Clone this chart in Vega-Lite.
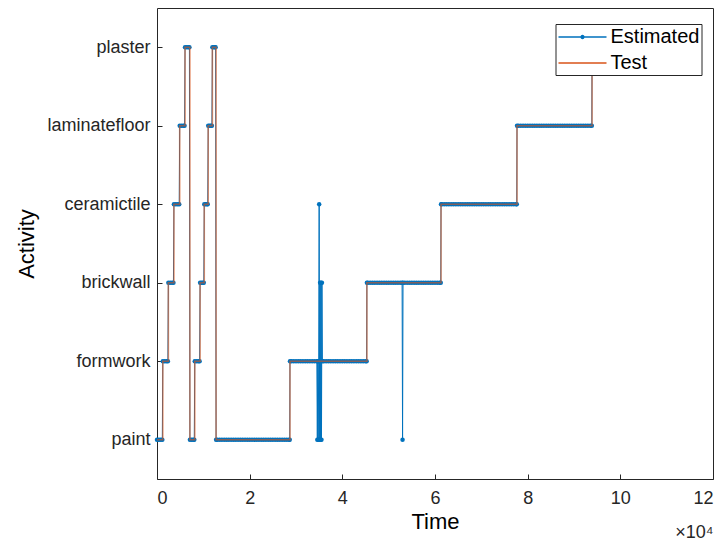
{
"$schema": "https://vega.github.io/schema/vega-lite/v6.json",
"width": 556,
"height": 471,
"autosize": {"type": "none"},
"padding": {"left": 157, "top": 8, "right": 11, "bottom": 63},
"background": "white",
"config": {
  "font": "Liberation Sans",
  "view": {"stroke": "#262626", "strokeWidth": 1},
  "axis": {"domain": false, "grid": false, "labelFont": "Liberation Sans", "labelFontSize": 18, "labelColor": "#262626", "tickColor": "#262626", "tickSize": -5, "titleFont": "Liberation Sans", "titleFontSize": 22, "titleColor": "#000000", "titleFontWeight": "normal"},
  "legend": {"title": null, "orient": "none", "legendX": 398.5, "legendY": 16, "symbolType": "M-2.4,0H2.4", "symbolSize": 400, "symbolStrokeWidth": 1.3, "labelFont": "Liberation Sans", "labelFontSize": 20, "labelColor": "#000000", "labelOffset": 17, "padding": 2, "rowPadding": 5, "strokeColor": "#262626", "fillColor": "white", "cornerRadius": 0, "symbolOffset": 14}
},
"title": {"text": "×10⁴", "orient": "bottom", "anchor": "end", "fontSize": 18, "fontWeight": "normal", "color": "#262626", "offset": -8},
"datasets": {
"est": [
{"t":0,"a":"paint"},{"t":400,"a":"paint"},{"t":800,"a":"paint"},{"t":1150,"a":"paint"},
{"t":1250,"a":"formwork"},{"t":1650,"a":"formwork"},{"t":2050,"a":"formwork"},{"t":2350,"a":"formwork"},
{"t":2450,"a":"brickwall"},{"t":2850,"a":"brickwall"},{"t":3250,"a":"brickwall"},{"t":3550,"a":"brickwall"},
{"t":3650,"a":"ceramictile"},{"t":4050,"a":"ceramictile"},{"t":4450,"a":"ceramictile"},{"t":4800,"a":"ceramictile"},
{"t":4900,"a":"laminatefloor"},{"t":5300,"a":"laminatefloor"},{"t":5700,"a":"laminatefloor"},{"t":5950,"a":"laminatefloor"},
{"t":6050,"a":"plaster"},{"t":6400,"a":"plaster"},{"t":6750,"a":"plaster"},{"t":7000,"a":"plaster"},
{"t":7100,"a":"paint"},{"t":7450,"a":"paint"},{"t":7800,"a":"paint"},{"t":8050,"a":"paint"},
{"t":8150,"a":"formwork"},{"t":8550,"a":"formwork"},{"t":8950,"a":"formwork"},{"t":9200,"a":"formwork"},
{"t":9300,"a":"brickwall"},{"t":9600,"a":"brickwall"},{"t":9900,"a":"brickwall"},{"t":10100,"a":"brickwall"},
{"t":10200,"a":"ceramictile"},{"t":10500,"a":"ceramictile"},{"t":10800,"a":"ceramictile"},{"t":10950,"a":"ceramictile"},
{"t":11050,"a":"laminatefloor"},{"t":11350,"a":"laminatefloor"},{"t":11650,"a":"laminatefloor"},{"t":11850,"a":"laminatefloor"},
{"t":11950,"a":"plaster"},{"t":12250,"a":"plaster"},{"t":12500,"a":"plaster"},{"t":12650,"a":"plaster"},
{"t":12750,"a":"paint"},{"t":13000,"a":"paint"},{"t":13500,"a":"paint"},{"t":14000,"a":"paint"},{"t":14500,"a":"paint"},{"t":15000,"a":"paint"},{"t":15500,"a":"paint"},{"t":16000,"a":"paint"},{"t":16500,"a":"paint"},{"t":17000,"a":"paint"},{"t":17500,"a":"paint"},{"t":18000,"a":"paint"},{"t":18500,"a":"paint"},{"t":19000,"a":"paint"},{"t":19500,"a":"paint"},{"t":20000,"a":"paint"},{"t":20500,"a":"paint"},{"t":21000,"a":"paint"},{"t":21500,"a":"paint"},{"t":22000,"a":"paint"},{"t":22500,"a":"paint"},{"t":23000,"a":"paint"},{"t":23500,"a":"paint"},{"t":24000,"a":"paint"},{"t":24500,"a":"paint"},{"t":25000,"a":"paint"},{"t":25500,"a":"paint"},{"t":26000,"a":"paint"},{"t":26500,"a":"paint"},{"t":27000,"a":"paint"},{"t":27500,"a":"paint"},{"t":28000,"a":"paint"},{"t":28500,"a":"paint"},{"t":28650,"a":"paint"},
{"t":28700,"a":"formwork"},{"t":29000,"a":"formwork"},{"t":29500,"a":"formwork"},{"t":30000,"a":"formwork"},{"t":30500,"a":"formwork"},{"t":31000,"a":"formwork"},{"t":31500,"a":"formwork"},{"t":32000,"a":"formwork"},{"t":32500,"a":"formwork"},{"t":33000,"a":"formwork"},{"t":33500,"a":"formwork"},{"t":34000,"a":"formwork"},{"t":34500,"a":"formwork"},
{"t":34600,"a":"paint"},{"t":34700,"a":"formwork"},{"t":34800,"a":"paint"},{"t":34900,"a":"formwork"},{"t":35000,"a":"ceramictile"},{"t":35100,"a":"paint"},{"t":35200,"a":"brickwall"},{"t":35300,"a":"paint"},{"t":35400,"a":"brickwall"},{"t":35500,"a":"paint"},{"t":35600,"a":"brickwall"},{"t":35700,"a":"formwork"},
{"t":36000,"a":"formwork"},{"t":36500,"a":"formwork"},{"t":37000,"a":"formwork"},{"t":37500,"a":"formwork"},{"t":38000,"a":"formwork"},{"t":38500,"a":"formwork"},{"t":39000,"a":"formwork"},{"t":39500,"a":"formwork"},{"t":40000,"a":"formwork"},{"t":40500,"a":"formwork"},{"t":41000,"a":"formwork"},{"t":41500,"a":"formwork"},{"t":42000,"a":"formwork"},{"t":42500,"a":"formwork"},{"t":43000,"a":"formwork"},{"t":43500,"a":"formwork"},{"t":44000,"a":"formwork"},{"t":44500,"a":"formwork"},{"t":45000,"a":"formwork"},{"t":45250,"a":"formwork"},
{"t":45300,"a":"brickwall"},{"t":45500,"a":"brickwall"},{"t":46000,"a":"brickwall"},{"t":46500,"a":"brickwall"},{"t":47000,"a":"brickwall"},{"t":47500,"a":"brickwall"},{"t":48000,"a":"brickwall"},{"t":48500,"a":"brickwall"},{"t":49000,"a":"brickwall"},{"t":49500,"a":"brickwall"},{"t":50000,"a":"brickwall"},{"t":50500,"a":"brickwall"},{"t":51000,"a":"brickwall"},{"t":51500,"a":"brickwall"},{"t":52000,"a":"brickwall"},{"t":52500,"a":"brickwall"},{"t":52900,"a":"brickwall"},{"t":53000,"a":"paint"},{"t":53100,"a":"brickwall"},{"t":53500,"a":"brickwall"},{"t":54000,"a":"brickwall"},{"t":54500,"a":"brickwall"},{"t":55000,"a":"brickwall"},{"t":55500,"a":"brickwall"},{"t":56000,"a":"brickwall"},{"t":56500,"a":"brickwall"},{"t":57000,"a":"brickwall"},{"t":57500,"a":"brickwall"},{"t":58000,"a":"brickwall"},{"t":58500,"a":"brickwall"},{"t":59000,"a":"brickwall"},{"t":59500,"a":"brickwall"},{"t":60000,"a":"brickwall"},{"t":60500,"a":"brickwall"},{"t":61000,"a":"brickwall"},{"t":61250,"a":"brickwall"},
{"t":61300,"a":"ceramictile"},{"t":61500,"a":"ceramictile"},{"t":62000,"a":"ceramictile"},{"t":62500,"a":"ceramictile"},{"t":63000,"a":"ceramictile"},{"t":63500,"a":"ceramictile"},{"t":64000,"a":"ceramictile"},{"t":64500,"a":"ceramictile"},{"t":65000,"a":"ceramictile"},{"t":65500,"a":"ceramictile"},{"t":66000,"a":"ceramictile"},{"t":66500,"a":"ceramictile"},{"t":67000,"a":"ceramictile"},{"t":67500,"a":"ceramictile"},{"t":68000,"a":"ceramictile"},{"t":68500,"a":"ceramictile"},{"t":69000,"a":"ceramictile"},{"t":69500,"a":"ceramictile"},{"t":70000,"a":"ceramictile"},{"t":70500,"a":"ceramictile"},{"t":71000,"a":"ceramictile"},{"t":71500,"a":"ceramictile"},{"t":72000,"a":"ceramictile"},{"t":72500,"a":"ceramictile"},{"t":73000,"a":"ceramictile"},{"t":73500,"a":"ceramictile"},{"t":74000,"a":"ceramictile"},{"t":74500,"a":"ceramictile"},{"t":75000,"a":"ceramictile"},{"t":75500,"a":"ceramictile"},{"t":76000,"a":"ceramictile"},{"t":76500,"a":"ceramictile"},{"t":77000,"a":"ceramictile"},{"t":77500,"a":"ceramictile"},{"t":77650,"a":"ceramictile"},
{"t":77700,"a":"laminatefloor"},{"t":78000,"a":"laminatefloor"},{"t":78500,"a":"laminatefloor"},{"t":79000,"a":"laminatefloor"},{"t":79500,"a":"laminatefloor"},{"t":80000,"a":"laminatefloor"},{"t":80500,"a":"laminatefloor"},{"t":81000,"a":"laminatefloor"},{"t":81500,"a":"laminatefloor"},{"t":82000,"a":"laminatefloor"},{"t":82500,"a":"laminatefloor"},{"t":83000,"a":"laminatefloor"},{"t":83500,"a":"laminatefloor"},{"t":84000,"a":"laminatefloor"},{"t":84500,"a":"laminatefloor"},{"t":85000,"a":"laminatefloor"},{"t":85500,"a":"laminatefloor"},{"t":86000,"a":"laminatefloor"},{"t":86500,"a":"laminatefloor"},{"t":87000,"a":"laminatefloor"},{"t":87500,"a":"laminatefloor"},{"t":88000,"a":"laminatefloor"},{"t":88500,"a":"laminatefloor"},{"t":89000,"a":"laminatefloor"},{"t":89500,"a":"laminatefloor"},{"t":90000,"a":"laminatefloor"},{"t":90500,"a":"laminatefloor"},{"t":91000,"a":"laminatefloor"},{"t":91500,"a":"laminatefloor"},{"t":92000,"a":"laminatefloor"},{"t":92500,"a":"laminatefloor"},{"t":93000,"a":"laminatefloor"},{"t":93500,"a":"laminatefloor"},{"t":93850,"a":"laminatefloor"},
{"t":93900,"a":"plaster"},{"t":94500,"a":"plaster"},{"t":95000,"a":"plaster"},{"t":95500,"a":"plaster"},{"t":96000,"a":"plaster"},{"t":96500,"a":"plaster"},{"t":97000,"a":"plaster"},{"t":97500,"a":"plaster"},{"t":98000,"a":"plaster"},{"t":98500,"a":"plaster"},{"t":99000,"a":"plaster"},{"t":99500,"a":"plaster"},{"t":100000,"a":"plaster"},{"t":100500,"a":"plaster"},{"t":101000,"a":"plaster"},{"t":101500,"a":"plaster"},{"t":102000,"a":"plaster"},{"t":102500,"a":"plaster"},{"t":103000,"a":"plaster"},{"t":103500,"a":"plaster"},{"t":104000,"a":"plaster"},{"t":104500,"a":"plaster"},{"t":105000,"a":"plaster"},{"t":105500,"a":"plaster"},{"t":106000,"a":"plaster"},{"t":106500,"a":"plaster"},{"t":107000,"a":"plaster"},{"t":107500,"a":"plaster"},{"t":108000,"a":"plaster"},{"t":108500,"a":"plaster"},{"t":109000,"a":"plaster"},{"t":109500,"a":"plaster"},{"t":110000,"a":"plaster"}
],
"test": [
{"t":0,"a":"paint"},{"t":1250,"a":"formwork"},{"t":2450,"a":"brickwall"},{"t":3650,"a":"ceramictile"},{"t":4900,"a":"laminatefloor"},{"t":6050,"a":"plaster"},{"t":7100,"a":"paint"},{"t":8150,"a":"formwork"},{"t":9300,"a":"brickwall"},{"t":10200,"a":"ceramictile"},{"t":11050,"a":"laminatefloor"},{"t":11950,"a":"plaster"},{"t":12750,"a":"paint"},{"t":28700,"a":"formwork"},{"t":45300,"a":"brickwall"},{"t":61300,"a":"ceramictile"},{"t":77700,"a":"laminatefloor"},{"t":93900,"a":"plaster"},{"t":110000,"a":"plaster"}
]
},
"encoding": {
  "x": {"field": "t", "type": "quantitative", "scale": {"domain": [0, 120000], "nice": false}, "axis": {"values": [0, 20000, 40000, 60000, 80000, 100000, 120000], "labelExpr": "datum.value / 10000", "title": "Time", "labelPadding": 15, "titlePadding": 4}},
  "y": {"field": "a", "type": "nominal", "scale": {"type": "point", "domain": ["plaster", "laminatefloor", "ceramictile", "brickwall", "formwork", "paint"], "padding": 0.5}, "axis": {"title": "Activity", "labelPadding": 12, "titlePadding": 8}}
},
"layer": [
  {"data": {"name": "est"}, "mark": {"type": "line", "strokeWidth": 1}, "encoding": {"order": {"field": "t", "type": "quantitative"}, "color": {"datum": "Estimated", "type": "nominal", "scale": {"domain": ["Estimated", "Test"], "range": ["#0072BD", "#D95319"]}, "legend": {"encode": {"symbols": {"update": {"shape": {"signal": "datum.value === 'Estimated' ? 'M-2.4,0H2.4M-0.15,0A0.15,0.15,0,1,1,0.15,0A0.15,0.15,0,1,1,-0.15,0' : 'M-2.4,0H2.4'"}}}}}}}},
  {"data": {"name": "est"}, "mark": {"type": "point", "filled": true, "size": 20, "opacity": 1}, "encoding": {"color": {"datum": "Estimated", "type": "nominal"}}},
  {"data": {"name": "test"}, "mark": {"type": "line", "interpolate": "step-after", "strokeWidth": 1.6, "opacity": 0.6}, "encoding": {"order": {"field": "t", "type": "quantitative"}, "color": {"datum": "Test", "type": "nominal"}}}
]
}
